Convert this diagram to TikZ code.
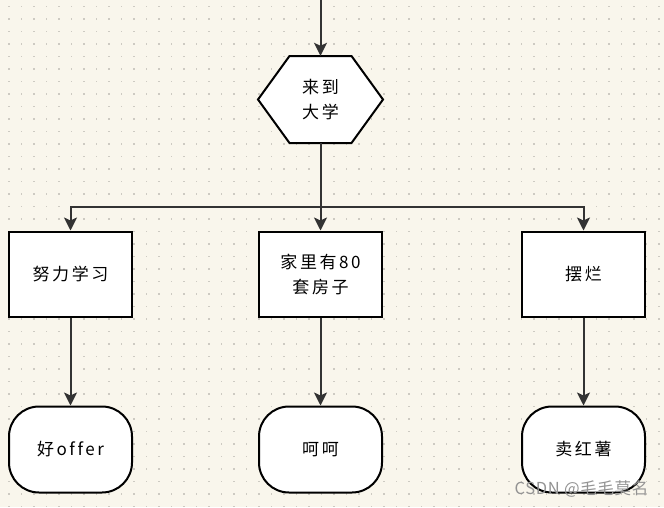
\documentclass[tikz,border=0pt]{standalone}
\usepackage{fontspec}
\setmainfont{Noto Sans CJK SC}[LetterSpace=15,Ligatures=NoCommon]
\newfontfamily\markfont{Noto Sans CJK SC}[LetterSpace=4]
\usetikzlibrary{arrows.meta,positioning}
\definecolor{paper}{HTML}{F9F6EC}
\definecolor{dotgray}{HTML}{CDCAC2}
\definecolor{wire}{HTML}{333333}

\begin{document}
\begin{tikzpicture}[x=1pt,y=1pt,
    every node/.style={font=\fontsize{17}{25}\selectfont,align=center,inner sep=0pt},
    stepbox/.style={draw=black,line width=2pt,fill=white,minimum width=123pt,minimum height=85pt},
    endbox/.style={stepbox,minimum height=86pt,rounded corners=30pt},
    hexline/.style={draw=black,line width=2pt,fill=white,line join=miter},
    link/.style={draw=wire,line width=2pt,-{Stealth[length=13pt,width=13pt,inset=3pt]}},
    node distance=175pt,on grid]

    % paper and dot grid
    \fill[paper] (0,0) rectangle (664,-507);
    \useasboundingbox (0,0) rectangle (664,-507);
    \foreach \i in {0,...,52}
      \foreach \j in {0,...,40}
        \fill[dotgray] (8.25+12.5*\i,-5.95-12.5*\j) rectangle ++(1.5,-1.5);

    % decision
    \coordinate(hexc) at (320.5,-99.5);
    \path[hexline] ([xshift=-62.5pt]hexc) -- ([xshift=-31pt,yshift=43.5pt]hexc)
        -- ([xshift=31pt,yshift=43.5pt]hexc) -- ([xshift=62.5pt]hexc)
        -- ([xshift=31pt,yshift=-43.5pt]hexc) -- ([xshift=-31pt,yshift=-43.5pt]hexc) -- cycle;
    \node(hex)[minimum width=125pt,minimum height=87pt] at (hexc) {来到\\大学};

    % choices
    \node(mid)[stepbox,below=174.5pt of hex] {家里有80\\套房子};
    \node(study)[stepbox,left=250pt of mid] {努力学习};
    \node(lazy)[stepbox,right=263pt of mid] {摆烂};

    % outcomes
    \node(offer)[endbox,below=175.5pt of study] {好offer};
    \node(haha)[endbox,below=175.5pt of mid] {呵呵};
    \node(yam)[endbox,below=175.5pt of lazy] {卖红薯};

    \coordinate(entry) at (320.5,0);
    \coordinate(split) at (320.5,-207);

    \path[link](entry) -- (hex);
    \path[link](hex) -- (mid);
    \path[link](split) -| (study);
    \path[link](split) -| (lazy);

    \path[link](study) -- (offer);
    \path[link](mid) -- (haha);
    \path[link](lazy) -- (yam);

    \node(mark)[font=\markfont\fontsize{16.5}{18}\selectfont,text=gray!85] at (581.5,-489) {CSDN @毛毛莫名};

  \end{tikzpicture}
\end{document}
